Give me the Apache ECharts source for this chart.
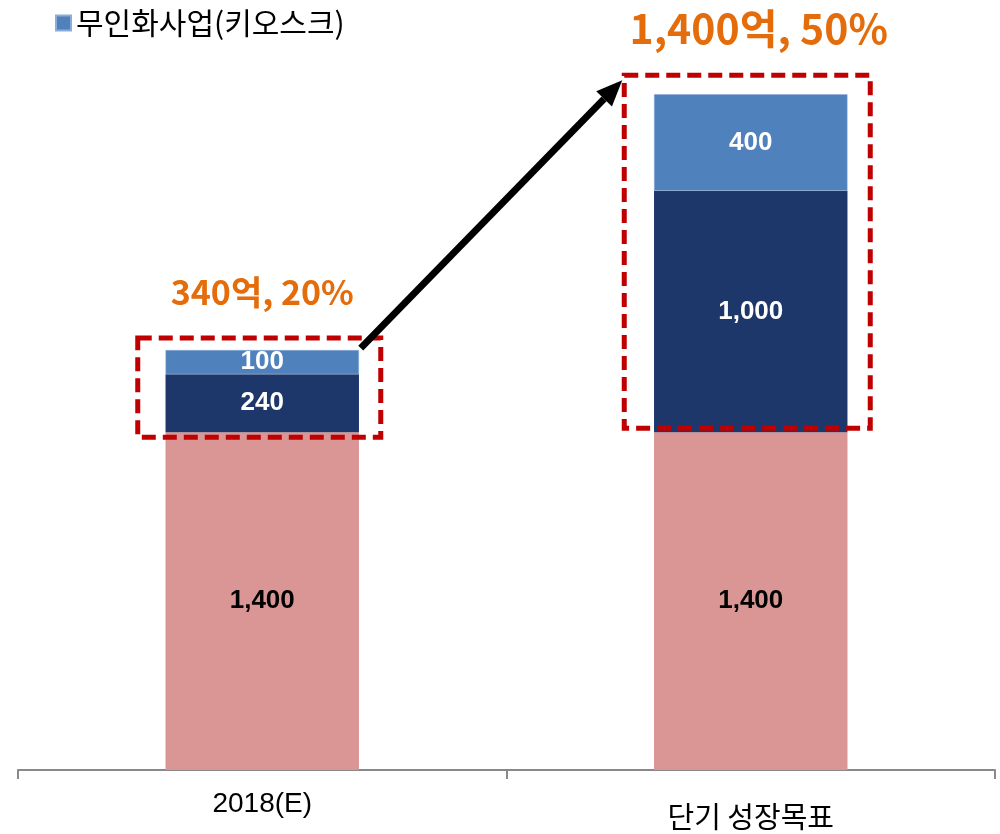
<!DOCTYPE html>
<html>
<head>
<meta charset="utf-8">
<script src="https://cdn.jsdelivr.net/npm/echarts@6/dist/echarts.min.js"></script>
<style>
  html, body { margin: 0; padding: 0; background: #fff; }
  #chart { width: 1000px; height: 834px; }
</style>
</head>
<body>
<div id="chart"></div>
<script>
// categories and stacked values (억)
const categories = ['2018(E)', '단기 성장목표'];
const baseValues = [1400, 1400];
const midValues = [240, 1000];
const kioskValues = [100, 400];
const legendName = '무인화사업(키오스크)';

const korFont = '"Noto Sans CJK KR", "Noto Sans", sans-serif';
const numFont = '"Liberation Sans", Arial, sans-serif';

let chart = echarts.init(document.getElementById('chart'));

const valueLabel = color => ({
    show: true, position: 'inside', color: color,
    fontFamily: numFont, fontWeight: 'bold', fontSize: 26,
    formatter: p => p.value.toLocaleString('en-US')
});

let option = {
    animation: false,
    legend: {
        data: [legendName],
        left: 50,
        top: 3,
        icon: 'rect',
        itemWidth: 15,
        itemHeight: 15,
        itemGap: 6,
        textStyle: { fontFamily: korFont, fontSize: 30, color: '#000' }
    },
    grid: { left: 18, right: 5, top: 46, bottom: 64 },
    xAxis: {
        type: 'category',
        data: categories,
        axisLine: { lineStyle: { color: '#898989', width: 2 } },
        axisTick: { show: true, length: 9, lineStyle: { color: '#898989', width: 2 } },
        axisLabel: {
            margin: 20,
            color: '#000',
            fontSize: 28,
            fontFamily: numFont,
            rich: {}
        }
    },
    yAxis: {
        type: 'value',
        min: 0,
        max: 3000,
        show: false,
        splitLine: { show: false }
    },
    series: [
        {
            name: '기존사업',
            type: 'bar',
            stack: 'total',
            barWidth: '39.6%',
            data: baseValues,
            itemStyle: { color: '#D99694' },
            label: valueLabel('#000')
        },
        {
            name: '무인화',
            type: 'bar',
            stack: 'total',
            data: midValues,
            itemStyle: { color: '#1D376B' },
            label: valueLabel('#fff')
        },
        {
            name: legendName,
            type: 'bar',
            stack: 'total',
            data: kioskValues,
            itemStyle: { color: '#4F81BD', borderColor: '#8EADD6', borderWidth: 0.5 },
            label: valueLabel('#fff')
        }
    ]
};
// korean category label uses the CJK font
option.xAxis.axisLabel.formatter = v => /[가-힣]/.test(v) ? '{k|' + v + '}' : v;
option.xAxis.axisLabel.rich = { k: { fontFamily: korFont, fontSize: 29, color: '#000', padding: [12, 0, 0, 0] } };

chart.setOption(option);

// dashed boxes, growth labels and arrow placed from the axis scales
const barHalf = 96.5;
let graphics = [];
let boxes = [];
const pad = [
    { l: 28, r: 22, t: 12, b: 5 },
    { l: 30, r: 23, t: 19, b: -4 }
];
categories.forEach((c, i) => {
    let added = midValues[i] + kioskValues[i];
    let top = chart.convertToPixel({ seriesIndex: 0 }, [i, baseValues[i] + added]);
    let bottom = chart.convertToPixel({ seriesIndex: 0 }, [i, baseValues[i]]);
    let x0 = top[0] - barHalf - pad[i].l;
    let x1 = top[0] + barHalf + pad[i].r;
    let y0 = top[1] - pad[i].t;
    let y1 = bottom[1] + pad[i].b;
    boxes.push({ x0, x1, y0, y1 });
    graphics.push({
        type: 'rect',
        shape: { x: x0, y: y0, width: x1 - x0, height: y1 - y0 },
        style: { fill: null, stroke: '#C00000', lineWidth: 5, lineDash: [14, 7] },
        z: 10
    });
    let pct = Math.round(added / (baseValues[i] + added) * 100);
    graphics.push({
        type: 'text',
        x: top[0] + (i === 0 ? 0 : 8),
        y: top[1] - (i === 0 ? 58 : 66),
        style: {
            text: added.toLocaleString('en-US') + '억, ' + pct + '%',
            fill: '#E46C0A',
            font: 'bold ' + (i === 0 ? 34 : 41) + 'px ' + korFont,
            align: 'center',
            verticalAlign: 'middle'
        },
        z: 10
    });
});

// arrow from first box to second
let ax0 = boxes[0].x1 - 20, ay0 = boxes[0].y0 + 10;
let ax1 = boxes[1].x0 - 2, ay1 = boxes[1].y0 + 5;
let ang = Math.atan2(ay1 - ay0, ax1 - ax0);
let headLen = 26, headW = 11;
let bx = ax1 - headLen * Math.cos(ang), by = ay1 - headLen * Math.sin(ang);
graphics.push({
    type: 'line',
    shape: { x1: ax0, y1: ay0, x2: bx, y2: by },
    style: { stroke: '#000', lineWidth: 7 },
    z: 11
});
graphics.push({
    type: 'polygon',
    shape: {
        points: [
            [ax1, ay1],
            [bx + headW * Math.sin(ang), by - headW * Math.cos(ang)],
            [bx - headW * Math.sin(ang), by + headW * Math.cos(ang)]
        ]
    },
    style: { fill: '#000' },
    z: 11
});

chart.setOption({ graphic: graphics });
</script>
</body>
</html>
